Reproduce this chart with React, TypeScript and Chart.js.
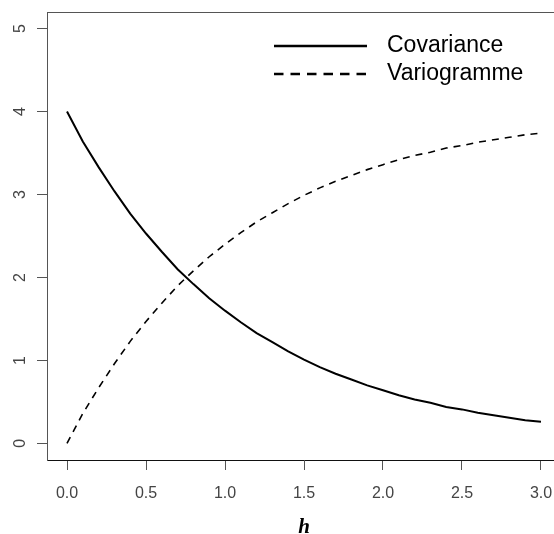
import React, { useEffect, useRef } from "react";
import { Chart, registerables } from "chart.js";

Chart.register(...registerables);

const hValues = [0.0, 0.1, 0.2, 0.3, 0.4, 0.5, 0.6, 0.7, 0.8, 0.9, 1.0, 1.1, 1.2, 1.3, 1.4, 1.5, 1.6, 1.7, 1.8, 1.9, 2.0, 2.1, 2.2, 2.3, 2.4, 2.5, 2.6, 2.7, 2.8, 2.9, 3.0];
const covariance = [4.0, 3.64, 3.33, 3.04, 2.77, 2.53, 2.31, 2.1, 1.92, 1.75, 1.6, 1.46, 1.33, 1.22, 1.11, 1.01, 0.92, 0.84, 0.77, 0.7, 0.64, 0.58, 0.53, 0.49, 0.44, 0.41, 0.37, 0.34, 0.31, 0.28, 0.26];
const variogramme = [0.0, 0.36, 0.67, 0.96, 1.23, 1.47, 1.69, 1.9, 2.08, 2.25, 2.4, 2.54, 2.67, 2.78, 2.89, 2.99, 3.08, 3.16, 3.23, 3.3, 3.36, 3.42, 3.47, 3.51, 3.56, 3.59, 3.63, 3.66, 3.69, 3.72, 3.74];
const xTicks = [0.0, 0.5, 1.0, 1.5, 2.0, 2.5, 3.0];
const yTicks = [0, 1, 2, 3, 4, 5];
const seriesLabels = ["Covariance", "Variogramme"];
const xTitle = "h";

const sansFont = "'Liberation Sans', Arial, Helvetica, sans-serif";

const framePlugin = {
  id: "frameAndLegend",
  afterDraw(chart: any) {
    const { ctx, chartArea } = chart;
    ctx.save();
    // top frame line
    ctx.strokeStyle = "#555";
    ctx.lineWidth = 1;
    ctx.beginPath();
    ctx.moveTo(chartArea.left, Math.round(chartArea.top) + 0.5);
    ctx.lineTo(chartArea.right, Math.round(chartArea.top) + 0.5);
    ctx.stroke();

    // legend
    const x0 = 274;
    const x1 = 367;
    const rows = [46, 74];
    chart.data.datasets.forEach((ds: any, i: number) => {
      const y = rows[i];
      ctx.strokeStyle = "#000";
      ctx.lineWidth = 2.6;
      ctx.setLineDash(i === 0 ? [] : [9.5, 7]);
      ctx.beginPath();
      ctx.moveTo(x0, y);
      ctx.lineTo(x1, y);
      ctx.stroke();
      ctx.setLineDash([]);
      ctx.fillStyle = "#000";
      ctx.font = `23px ${sansFont}`;
      ctx.textBaseline = "middle";
      ctx.textAlign = "left";
      ctx.fillText(ds.label, 387, y);
    });
    ctx.restore();
  },
};

export default function App() {
  const canvasRef = useRef<HTMLCanvasElement | null>(null);

  useEffect(() => {
    const canvas = canvasRef.current;
    if (!canvas) return;
    const chart = new Chart(canvas, {
      type: "line",
      data: {
        datasets: [
          {
            label: seriesLabels[0],
            data: hValues.map((h, i) => ({ x: h, y: covariance[i] })),
            borderColor: "#000",
            borderWidth: 2,
            pointRadius: 0,
            fill: false,
            tension: 0,
          },
          {
            label: seriesLabels[1],
            data: hValues.map((h, i) => ({ x: h, y: variogramme[i] })),
            borderColor: "#000",
            borderWidth: 1.6,
            borderDash: [7, 6],
            pointRadius: 0,
            fill: false,
            tension: 0,
          },
        ],
      },
      options: {
        responsive: false,
        animation: false,
        layout: { padding: { top: 12, right: 9, left: 0, bottom: 0 } },
        plugins: {
          legend: { display: false },
          tooltip: { enabled: false },
        },
        scales: {
          x: {
            type: "linear",
            min: -0.1266,
            max: 3.1266,
            afterBuildTicks: (scale: any) => {
              scale.ticks = xTicks.map((v) => ({ value: v }));
            },
            afterFit: (scale: any) => {
              scale.height = 74;
              scale.paddingLeft = 0;
              scale.paddingRight = 0;
            },
            grid: {
              drawOnChartArea: false,
              drawTicks: true,
              tickLength: 10,
              color: "#555",
            },
            border: { display: true, color: "#111", width: 1 },
            ticks: {
              color: "#444",
              font: { family: sansFont, size: 16 },
              padding: 14,
              maxRotation: 0,
              minRotation: 0,
              autoSkip: false,
              callback: (v: any) => Number(v).toFixed(1),
            },
            title: {
              display: true,
              text: xTitle,
              color: "#000",
              font: { family: "'Liberation Serif', 'Times New Roman', serif", size: 21, style: "italic", weight: "bold", lineHeight: 0.6 },
              padding: { top: 0, bottom: 0 },
            },
          },
          y: {
            type: "linear",
            min: -0.2,
            max: 5.2,
            afterBuildTicks: (scale: any) => {
              scale.ticks = yTicks.map((v) => ({ value: v }));
            },
            afterFit: (scale: any) => {
              scale.width = 47;
              scale.paddingTop = 0;
              scale.paddingBottom = 0;
            },
            grid: {
              drawOnChartArea: false,
              drawTicks: true,
              tickLength: 10,
              color: "#555",
            },
            border: { display: true, color: "#555", width: 1 },
            ticks: {
              color: "#444",
              font: { family: sansFont, size: 16 },
              padding: 12,
              minRotation: 90,
              maxRotation: 90,
              crossAlign: "center",
              autoSkip: false,
              callback: (v: any) => String(v),
            },
          },
        },
      },
      plugins: [framePlugin],
    });
    return () => chart.destroy();
  }, []);

  return (
    <div style={{ position: "fixed", left: 0, top: 0, width: 554, height: 534, overflow: "hidden", background: "#fff" }}>
      <canvas ref={canvasRef} width={570} height={534} style={{ width: 570, height: 534, display: "block" }} />
    </div>
  );
}
